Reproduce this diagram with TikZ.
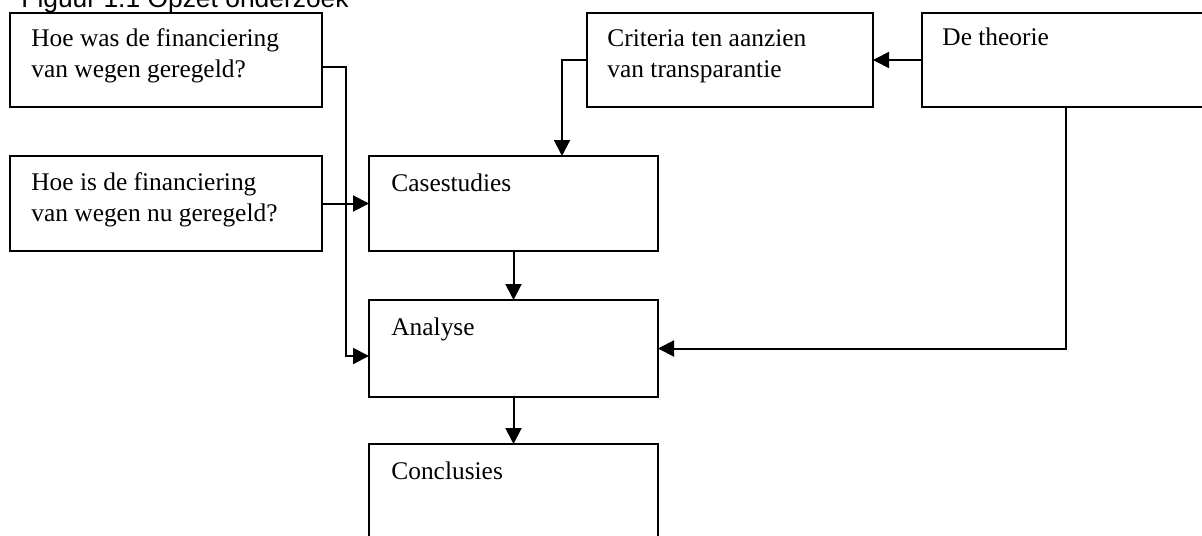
\documentclass[tikz,border=0pt]{standalone}
\usepackage{fontspec}
\setmainfont{Liberation Serif}
\newfontfamily\titlefont{Liberation Sans}
\usetikzlibrary{arrows.meta,positioning}
\tikzset{
  box/.style={draw=black, line width=1pt, rectangle, inner sep=0pt, outer sep=0pt, anchor=north west},
  lbl/.style={anchor=base west, inner sep=0pt, align=left, font=\fontsize{12.7pt}{15.5pt}\selectfont},
  arr/.style={draw=black, line width=1pt, -{Triangle[length=8pt,width=8pt]}},
  conn/.style={draw=black, line width=1pt}
}
\begin{document}
\begin{tikzpicture}[x=0.5pt,y=-0.5pt]
\path[use as bounding box] (0,0) rectangle (1202,535);
\clip (0,0) rectangle (1202,535);
% title
\node[anchor=base west, inner sep=0pt, font=\titlefont\fontsize{13.2pt}{15pt}\selectfont] (title) at (21,8) {Figuur 1.1 Opzet onderzoek};
% boxes
\node[box, minimum width=156pt, minimum height=47pt] (A) at (10,13) {};
\node[box, minimum width=156pt, minimum height=47.5pt] (B) at (10,156) {};
\node[box, minimum width=144.5pt, minimum height=47.5pt] (Cs) at (369,156) {};
\node[box, minimum width=143pt, minimum height=47pt] (Cr) at (587,13) {};
\node[box, minimum width=144pt, minimum height=47pt] (Th) at (922,13) {};
\node[box, minimum width=144.5pt, minimum height=48.5pt] (An) at (369,300) {};
\node[box, minimum width=144.5pt, minimum height=60pt] (Co) at (369,444) {};
% labels (multi-line nodes are placed at the baseline of their last line)
\node[lbl] (tA) at (31,77) {Hoe was de financiering\\van wegen geregeld?};
\node[lbl] (tB) at (31,221) {Hoe is de financiering\\van wegen nu geregeld?};
\node[lbl] (tCs) at (391,191) {Casestudies};
\node[lbl] (tCr) at (607,77) {Criteria ten aanzien\\van transparantie};
\node[lbl] (tTh) at (942,46) {De theorie};
\node[lbl] (tAn) at (391,335) {Analyse};
\node[lbl] (tCo) at (391,479) {Conclusies};
% connectors
\draw[arr] ([yshift=-3.5pt]A.east) -- ++(12pt,0) |- ([yshift=-3.75pt]An.west);
\draw[arr] (B.east) -- (Cs.west);
\draw[arr] (Cr.west) -| ([xshift=24.25pt]Cs.north);
\draw[arr] (Th.west) -- (Cr.east);
\draw[arr] (Cs.south) -- (An.north);
\draw[arr] (Th.south) |- (An.east);
\draw[arr] (An.south) -- (Co.north);
\end{tikzpicture}
\end{document}
